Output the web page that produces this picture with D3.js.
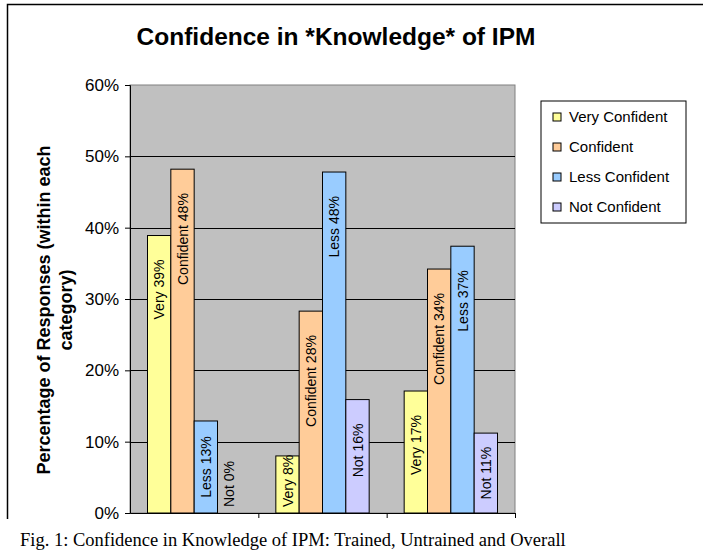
<!DOCTYPE html>
<html>
<head>
<meta charset="utf-8">
<script src="https://cdn.jsdelivr.net/npm/d3@7"></script>
<style>
    body { margin: 0; background: #fff; }
    text { font-family: Arial, "Liberation Sans", sans-serif; }
</style>
</head>
<body>
<div id="bar_graph"></div>
<script>
// chart data
var categories = ["Trained", "Untrained", "Overall"];
var seriesNames = ["Very Confident", "Confident", "Less Confident", "Not Confident"];
var shortNames = ["Very", "Confident", "Less", "Not"];
var veryConfident = [38.9, 8.0, 17.1];
var confident = [48.2, 28.3, 34.2];
var lessConfident = [12.9, 47.8, 37.4];
var notConfident = [0, 15.9, 11.2];
var yTicks = [0, 10, 20, 30, 40, 50, 60];
var colors = ["#FFFF99", "#FFCC99", "#99CCFF", "#CCCCFF"];

var seriesValues = [veryConfident, confident, lessConfident, notConfident];
var data = [];
categories.forEach(function (c, i) {
    seriesNames.forEach(function (s, j) {
        data.push({ cat: c, series: s, short: shortNames[j], value: seriesValues[j][i], color: colors[j] });
    });
});

function DrawBars() {
    var margin = { top: 85, right: 188, bottom: 39, left: 130 },
        W = 703, H = 552,
        width = W - margin.left - margin.right,
        height = H - margin.top - margin.bottom;

    var svg = d3.select("#bar_graph")
        .append("svg")
        .attr("width", W)
        .attr("height", H);

    // outer chart frame (cut off at bottom and right)
    svg.append("path")
        .attr("d", "M7.5,519 V4.5 H710")
        .attr("fill", "none")
        .attr("stroke", "#000")
        .attr("stroke-width", 1.5);

    // title
    svg.append("text")
        .attr("x", 336)
        .attr("y", 45)
        .style("text-anchor", "middle")
        .style("font-weight", "bold")
        .style("font-size", "24.5px")
        .text("Confidence in *Knowledge* of IPM");

    var g = svg.append("g")
        .attr("transform", "translate(" + margin.left + "," + margin.top + ")");

    var x0 = d3.scaleBand()
        .domain(categories)
        .range([0, width]);

    var x1 = d3.scaleBand()
        .domain(seriesNames)
        .range([0, x0.bandwidth()])
        .paddingInner(0)
        .paddingOuter(0.75);

    var y = d3.scaleLinear()
        .domain([0, 60])
        .range([height, 0]);

    // plot background
    g.append("rect")
        .attr("width", width)
        .attr("height", height)
        .attr("fill", "#C0C0C0")
        .attr("stroke", "#808080")
        .attr("stroke-width", 1);

    // gridlines
    g.selectAll(".grid")
        .data(yTicks.slice(1, -1))
        .enter()
        .append("line")
        .attr("x1", 0)
        .attr("x2", width)
        .attr("y1", function (d) { return Math.round(y(d)) + 0.5; })
        .attr("y2", function (d) { return Math.round(y(d)) + 0.5; })
        .attr("stroke", "#000")
        .attr("stroke-width", 1);

    // bars
    g.selectAll(".bar")
        .data(data)
        .enter()
        .append("rect")
        .attr("x", function (d) { return x0(d.cat) + x1(d.series); })
        .attr("y", function (d) { return y(d.value); })
        .attr("width", x1.bandwidth())
        .attr("height", function (d) { return height - y(d.value); })
        .attr("fill", function (d) { return d.color; })
        .attr("stroke", "#000")
        .attr("stroke-width", 1);

    // rotated data labels
    g.selectAll(".lbl")
        .data(data)
        .enter()
        .append("text")
        .style("font-size", "14px")
        .style("text-anchor", "middle")
        .attr("dominant-baseline", "central")
        .text(function (d) { return d.short + " " + Math.round(d.value) + "%"; })
        .attr("transform", function (d) {
            var L = this.getComputedTextLength();
            var top = y(d.value);
            var cy = Math.min((top + height) / 2, top + 24 + L / 2, height - 6 - L / 2);
            var cx = x0(d.cat) + x1(d.series) + x1.bandwidth() / 2;
            return "translate(" + cx + "," + cy + ") rotate(-90)";
        });

    // Y axis
    var yAxis = g.append("g")
        .call(d3.axisLeft(y)
            .tickValues(yTicks)
            .tickSize(5)
            .tickPadding(6)
            .tickFormat(function (d) { return d + "%"; }));
    yAxis.select(".domain").attr("stroke", "#000");
    yAxis.selectAll("text")
        .style("font-size", "17px")
        .style("font-family", "Arial, 'Liberation Sans', sans-serif");

    // X axis (no category labels)
    var xAxis = g.append("g")
        .attr("transform", "translate(0," + height + ")")
        .call(d3.axisBottom(d3.scaleLinear().domain([0, categories.length]).range([0, width]))
            .ticks(categories.length)
            .tickSize(5)
            .tickSizeOuter(0)
            .tickFormat(""));
    xAxis.selectAll(".tick").filter(function (d) { return d === 0; }).remove();

    // text label for the y axis
    var yTitle = svg.append("text")
        .attr("transform", "translate(50,310) rotate(-90)")
        .style("text-anchor", "middle")
        .style("font-weight", "bold")
        .style("font-size", "18px");
    yTitle.append("tspan").attr("x", 0).attr("dy", 0).text("Percentage of Responses (within each");
    yTitle.append("tspan").attr("x", 0).attr("dy", "1.2em").text("category)");

    // legend
    var legend = svg.append("g")
        .attr("transform", "translate(541,101)");
    legend.append("rect")
        .attr("width", 145)
        .attr("height", 122)
        .attr("fill", "#fff")
        .attr("stroke", "#000")
        .attr("stroke-width", 1);
    var items = legend.selectAll(".item")
        .data(seriesNames)
        .enter()
        .append("g")
        .attr("transform", function (d, i) { return "translate(12," + (16 + i * 30) + ")"; });
    items.append("rect")
        .attr("x", 0)
        .attr("y", -4)
        .attr("width", 8)
        .attr("height", 8)
        .attr("fill", function (d, i) { return colors[i]; })
        .attr("stroke", "#000");
    items.append("text")
        .attr("x", 16)
        .attr("dy", "0.35em")
        .style("font-size", "15px")
        .text(function (d) { return d; });

    // figure caption
    svg.append("text")
        .attr("x", 20)
        .attr("y", 546)
        .style("font-family", "'Liberation Serif', 'Times New Roman', serif")
        .style("font-size", "18.5px")
        .text("Fig. 1: Confidence in Knowledge of IPM: Trained, Untrained and Overall");
}

DrawBars();
</script>
</body>
</html>
